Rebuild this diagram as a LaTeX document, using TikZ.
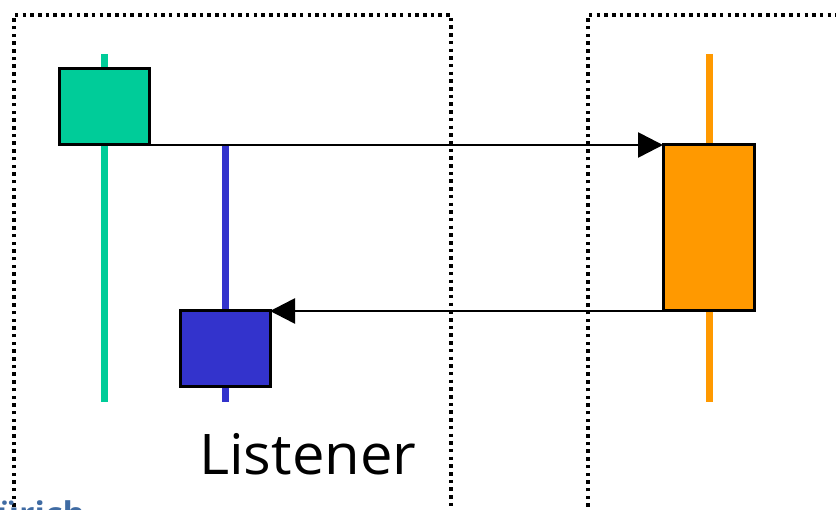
\documentclass[tikz,border=0pt]{standalone}
\usepackage{fontspec}
\setmainfont{Open Sans}
\usetikzlibrary{arrows.meta}
\definecolor{cgreen}{HTML}{00CC99}
\definecolor{cblue}{HTML}{3333CC}
\definecolor{corange}{HTML}{FF9900}
\definecolor{ethblue}{HTML}{3F6BA3}
\tikzset{
  lifeline/.style={line width=7pt},
  actbox/.style={draw=black, line width=3pt, inner sep=0pt, outer sep=0pt},
  msg/.style={line width=2.6pt, -{Triangle[length=25pt,width=25pt]}},
  frame/.style={line width=3.5pt, dash pattern=on 3.5pt off 4.2pt},
}
\begin{document}
\begin{tikzpicture}[x=1pt,y=-1pt]
\useasboundingbox (0,0) rectangle (836,510);
\clip (0,0) rectangle (836,510);
% frames
\draw[frame] (14,530) -- (14,15) -- (451,15) -- (451,530);
\draw[frame] (588,530) -- (588,15) -- (860,15);
% lifelines
\draw[lifeline, cgreen] (104,54) -- (104,402);
\draw[lifeline, cblue] (225,145) -- (225,402);
\draw[lifeline, corange] (709,54) -- (709,402);
% activation boxes
\node[actbox, fill=cgreen, minimum width=90pt, minimum height=76pt] (g) at (104,107) {};
\node[actbox, fill=cblue, minimum width=90pt, minimum height=76pt] (b) at (225,349) {};
\node[actbox, fill=corange, minimum width=91pt, minimum height=166pt] (o) at (708.5,228) {};
% messages
\draw[msg] (g.south east) -- (g.south east -| o.west);
\draw[msg] (o.south west) -- (o.south west -| b.east);
% labels
\node[anchor=base west, inner sep=0pt, xscale=1.035, font=\fontsize{56}{62}\selectfont] (lbl) at (199,475) {Listener};
\node[anchor=base west, inner sep=0pt, text=ethblue, font=\fontsize{34}{40}\bfseries\selectfont] (eth) at (-23,526) {Zürich};
\end{tikzpicture}
\end{document}
